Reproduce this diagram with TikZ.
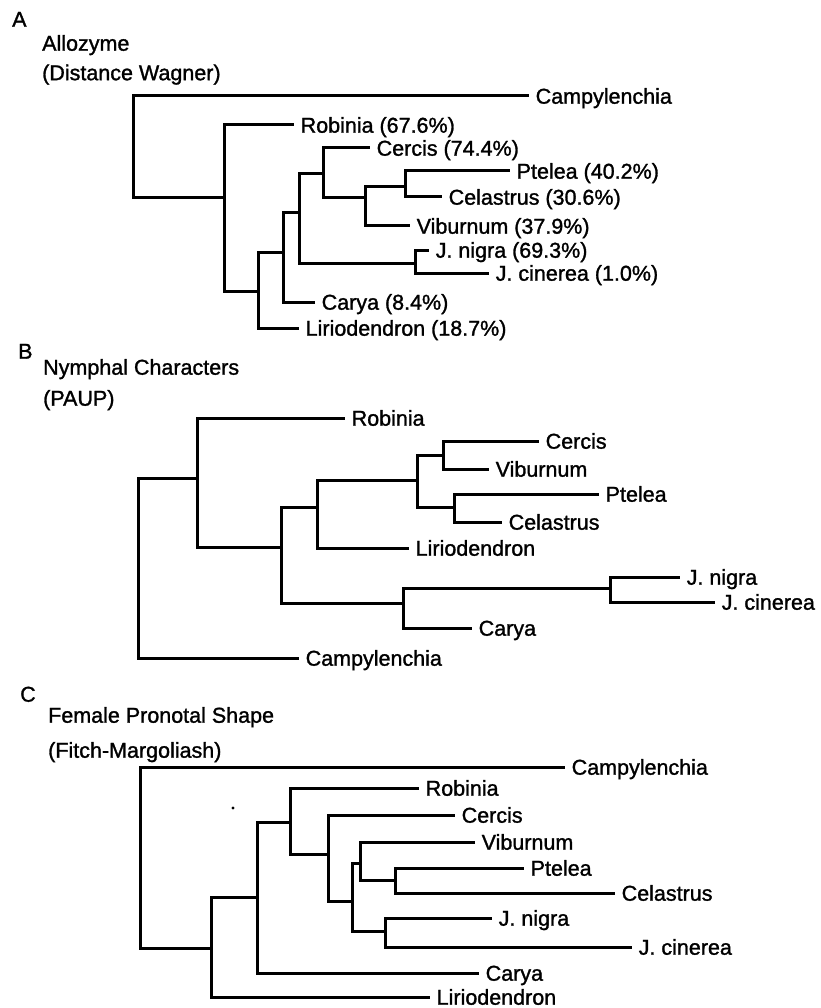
\documentclass[tikz,border=0pt]{standalone}
\usepackage{fontspec}
\setmainfont{Liberation Sans}[BoldFont=Liberation Sans, BoldFeatures={FakeBold=1.3}]
\usepackage{tikz}

\begin{document}
\begin{tikzpicture}[
        x=1pt, y=-1pt,
        every node/.style={font=\fontsize{21.5}{24}\selectfont\bfseries, text height=15.4pt, text depth=0pt, inner ysep=0pt},
        tag/.style={anchor=west, inner xsep=0pt},
        title/.style={anchor=west, inner xsep=0pt},
        taxon/.style={anchor=west, inner xsep=8.5pt},
        branch/.style={line width=3pt, line cap=rect, color=black}
    ]
    \useasboundingbox (0,0) rectangle (820,1008);

    % ===================== A =====================
    \node[tag] (tagA) at (12,19) {A};
    \node[title] (titleA) at (42,43) {Allozyme};
    \node[title] (methA) at (42,72.5) {(Distance Wagner)};

    % --- internal nodes ---
    \coordinate (a1) at (133,198);
    \coordinate (a2) at (224,198);
    \coordinate (a3) at (258,291);
    \coordinate (a4) at (283,252);
    \coordinate (a5) at (299,213);
    \coordinate (a6) at (323,174);
    \coordinate (a7) at (365,198);
    \coordinate (a8) at (405,187);
    \coordinate (a9) at (415,263);

    % --- taxa ---
    \node[taxon] (aCamp) at (527,96) {Campylenchia};
    \node[taxon] (aRob) at (292,125) {Robinia (67.6\%)};
    \node[taxon] (aCer) at (368,148) {Cercis (74.4\%)};
    \node[taxon] (aPte) at (508,171) {Ptelea (40.2\%)};
    \node[taxon] (aCel) at (440,197) {Celastrus (30.6\%)};
    \node[taxon] (aVib) at (408,226) {Viburnum (37.9\%)};
    \node[taxon] (aJni) at (427,250) {J. nigra (69.3\%)};
    \node[taxon] (aJci) at (487,273) {J. cinerea (1.0\%)};
    \node[taxon] (aCar) at (313,302) {Carya (8.4\%)};
    \node[taxon] (aLir) at (297,328) {Liriodendron (18.7\%)};

    % --- branches ---
    \draw[branch] (a1) |- (aCamp.west);
    \draw[branch] (a1) |- (a2);
    \draw[branch] (a2) |- (aRob.west);
    \draw[branch] (a2) |- (a3);
    \draw[branch] (a3) |- (a4);
    \draw[branch] (a3) |- (aLir.west);
    \draw[branch] (a4) |- (a5);
    \draw[branch] (a4) |- (aCar.west);
    \draw[branch] (a5) |- (a6);
    \draw[branch] (a5) |- (a9);
    \draw[branch] (a6) |- (aCer.west);
    \draw[branch] (a6) |- (a7);
    \draw[branch] (a7) |- (a8);
    \draw[branch] (a7) |- (aVib.west);
    \draw[branch] (a8) |- (aPte.west);
    \draw[branch] (a8) |- (aCel.west);
    \draw[branch] (a9) |- (aJni.west);
    \draw[branch] (a9) |- (aJci.west);

    % ===================== B =====================
    \node[tag] (tagB) at (18,351) {B};
    \node[title] (titleB) at (43,367) {Nymphal Characters};
    \node[title] (methB) at (43,398) {(PAUP)};

    % --- internal nodes ---
    \coordinate (b1) at (138,478);
    \coordinate (b2) at (197,478);
    \coordinate (b3) at (281,547);
    \coordinate (b4) at (317,507);
    \coordinate (b5) at (417,480);
    \coordinate (b6) at (443,455);
    \coordinate (b7) at (454,507);
    \coordinate (b8) at (403,603);
    \coordinate (b9) at (610,588);

    % --- taxa ---
    \node[taxon] (bRob) at (343,418) {Robinia};
    \node[taxon] (bCer) at (537,441) {Cercis};
    \node[taxon] (bVib) at (487,469) {Viburnum};
    \node[taxon] (bPte) at (597,494) {Ptelea};
    \node[taxon] (bCel) at (500,522) {Celastrus};
    \node[taxon] (bLir) at (407,548) {Liriodendron};
    \node[taxon] (bJni) at (678,577) {J. nigra};
    \node[taxon] (bJci) at (713,602) {J. cinerea};
    \node[taxon] (bCar) at (470,628) {Carya};
    \node[taxon] (bCamp) at (297,658) {Campylenchia};

    % --- branches ---
    \draw[branch] (b1) |- (b2);
    \draw[branch] (b1) |- (bCamp.west);
    \draw[branch] (b2) |- (bRob.west);
    \draw[branch] (b2) |- (b3);
    \draw[branch] (b3) |- (b4);
    \draw[branch] (b3) |- (b8);
    \draw[branch] (b4) |- (b5);
    \draw[branch] (b4) |- (bLir.west);
    \draw[branch] (b5) |- (b6);
    \draw[branch] (b5) |- (b7);
    \draw[branch] (b6) |- (bCer.west);
    \draw[branch] (b6) |- (bVib.west);
    \draw[branch] (b7) |- (bPte.west);
    \draw[branch] (b7) |- (bCel.west);
    \draw[branch] (b8) |- (b9);
    \draw[branch] (b8) |- (bCar.west);
    \draw[branch] (b9) |- (bJni.west);
    \draw[branch] (b9) |- (bJci.west);

    % ===================== C =====================
    \node[tag] (tagC) at (20,694) {C};
    \node[title] (titleC) at (48,715) {Female Pronotal Shape};
    \node[title] (methC) at (48,750) {(Fitch-Margoliash)};

    % --- internal nodes ---
    \coordinate (c1) at (140,948);
    \coordinate (c2) at (211,948);
    \coordinate (c3) at (257,897);
    \coordinate (c4) at (290,822);
    \coordinate (c5) at (328,854);
    \coordinate (c6) at (352,901);
    \coordinate (c7) at (360,863);
    \coordinate (c8) at (395,880);
    \coordinate (c9) at (385,931);

    % --- taxa ---
    \node[taxon] (cCamp) at (563,767) {Campylenchia};
    \node[taxon] (cRob) at (417,788) {Robinia};
    \node[taxon] (cCer) at (453,815) {Cercis};
    \node[taxon] (cVib) at (473,842) {Viburnum};
    \node[taxon] (cPte) at (522,868) {Ptelea};
    \node[taxon] (cCel) at (613,893) {Celastrus};
    \node[taxon] (cJni) at (490,918) {J. nigra};
    \node[taxon] (cJci) at (630,947) {J. cinerea};
    \node[taxon] (cCar) at (477,973) {Carya};
    \node[taxon] (cLir) at (428,997) {Liriodendron};

    % --- branches ---
    \draw[branch] (c1) |- (cCamp.west);
    \draw[branch] (c1) |- (c2);
    \draw[branch] (c2) |- (c3);
    \draw[branch] (c2) |- (cLir.west);
    \draw[branch] (c3) |- (c4);
    \draw[branch] (c3) |- (cCar.west);
    \draw[branch] (c4) |- (cRob.west);
    \draw[branch] (c4) |- (c5);
    \draw[branch] (c5) |- (cCer.west);
    \draw[branch] (c5) |- (c6);
    \draw[branch] (c6) |- (c7);
    \draw[branch] (c6) |- (c9);
    \draw[branch] (c7) |- (cVib.west);
    \draw[branch] (c7) |- (c8);
    \draw[branch] (c8) |- (cPte.west);
    \draw[branch] (c8) |- (cCel.west);
    \draw[branch] (c9) |- (cJni.west);
    \draw[branch] (c9) |- (cJci.west);

    % stray dot
    \fill (233,808) circle (1.6pt);

\end{tikzpicture}
\end{document}
